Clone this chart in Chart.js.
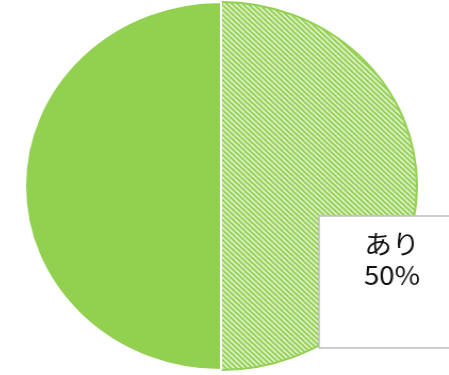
<!DOCTYPE html>
<html lang="ja">
<head>
<meta charset="utf-8">
<script src="https://cdn.jsdelivr.net/npm/chart.js@4.4.0/dist/chart.umd.min.js"></script>
<style>
  html, body { margin: 0; padding: 0; background: #fff; overflow: hidden; }
  #wrap { width: 449px; height: 375px; position: relative; overflow: hidden; }
  /* 横にわずかに引き伸ばした円グラフ */
  #pie { display: block; transform-origin: 221px 0; transform: scaleX(1.065); }
</style>
</head>
<body>
<div id="wrap"><canvas id="pie" width="449" height="375"></canvas></div>
<script>
// 項目と割合
const labels = ['あり', 'なし'];
const values = [50, 50];
// ラベルを表示する項目
const shownLabels = ['あり'];

const GREEN = '#92D050';

// 斜線パターン（右下がり）
function makeHatch() {
    const size = 5;
    const tile = document.createElement('canvas');
    tile.width = size;
    tile.height = size;
    const c = tile.getContext('2d');
    c.fillStyle = GREEN;
    c.fillRect(0, 0, size, size);
    c.strokeStyle = '#dcefc6';
    c.lineWidth = 1.8;
    for (const off of [-size, 0, size]) {
        c.beginPath();
        c.moveTo(off - 1, -1);
        c.lineTo(off + size + 1, size + 1);
        c.stroke();
    }
    return c.createPattern(tile, 'repeat');
}

// 吹き出し風のラベルボックスを描く
const calloutLabel = {
    id: 'calloutLabel',
    afterDatasetsDraw(chart) {
        const ctx = chart.ctx;
        const meta = chart.getDatasetMeta(0);
        const total = values.reduce((s, v) => s + v, 0);
        meta.data.forEach((arc, i) => {
            if (!shownLabels.includes(labels[i])) return;
            const r = arc.outerRadius;
            const left = arc.x + r * 0.5;
            const top = arc.y + r * 0.163;
            const w = r * 0.745;
            const h = r * 0.717;
            ctx.save();
            ctx.fillStyle = '#ffffff';
            ctx.fillRect(left, top, w, h);
            ctx.strokeStyle = '#bfbfbf';
            ctx.lineWidth = 1.5;
            ctx.strokeRect(left, top, w, h);
            ctx.fillStyle = '#111111';
            ctx.font = '26px "Noto Sans CJK JP"';
            ctx.textAlign = 'center';
            ctx.textBaseline = 'middle';
            const cx = left + w / 2;
            const pct = Math.round(values[i] / total * 100) + '%';
            ctx.fillText(labels[i], cx, top + 28);
            ctx.fillText(pct, cx, top + 59);
            ctx.restore();
        });
    }
};

new Chart(document.getElementById('pie'), {
    type: 'pie',
    data: {
        labels: labels,
        datasets: [{
            data: values,
            backgroundColor: [makeHatch(), GREEN],
            borderColor: [GREEN, '#ffffff'],
            borderWidth: 2
        }]
    },
    options: {
        responsive: false,
        animation: false,
        layout: { padding: { top: 1, bottom: 4, left: 36, right: 43 } },
        plugins: {
            legend: { display: false },
            tooltip: { enabled: false }
        }
    },
    plugins: [calloutLabel]
});
</script>
</body>
</html>
